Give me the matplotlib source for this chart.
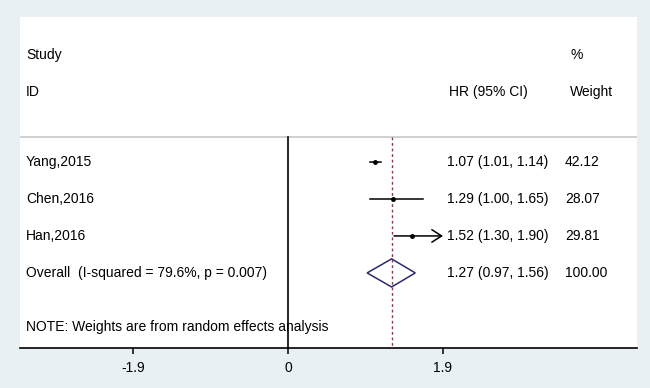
import matplotlib
matplotlib.use("Agg")
from matplotlib import pyplot as plt
from matplotlib.patches import Polygon

# study data
studies = ["Yang,2015", "Chen,2016", "Han,2016"]
hr = [1.07, 1.29, 1.52]
ci_low = [1.01, 1.00, 1.30]
ci_high = [1.14, 1.65, 1.90]
weights = ["42.12", "28.07", "29.81"]

overall_label = "Overall  (I-squared = 79.6%, p = 0.007)"
overall_hr = 1.27
overall_low = 0.97
overall_high = 1.56
overall_weight = "100.00"

x_ticks = [-1.9, 0, 1.9]
x_clip = 1.9
note = "NOTE: Weights are from random effects analysis"

BG = "#e8f0f3"
FONT = "Liberation Sans"
FS = 10

fig = plt.figure(figsize=(6.5, 3.88), dpi=100, facecolor=BG)
ax = fig.add_axes([20 / 650, 40 / 388, 617 / 650, 331 / 388])
ax.set_facecolor("white")

px = 310 / 3.8  # pixels per unit
ax.set_xlim((20 - 288) / px, (637 - 288) / px)
ax.set_ylim(5.03, -3.92)

col_study = (26 - 288) / px
col_hr = (447 - 288) / px
col_w = (565 - 288) / px
top_line = -0.68

# header
ax.text(col_study, -2.9, "Study", fontsize=FS, family=FONT, va="center")
ax.text(col_study, -1.9, "ID", fontsize=FS, family=FONT, va="center")
ax.text(col_hr + 0.03, -1.9, "HR (95% CI)", fontsize=FS, family=FONT, va="center")
ax.text(col_w + 0.07, -2.9, "%", fontsize=FS, family=FONT, va="center")
ax.text(col_w + 0.06, -1.9, "Weight", fontsize=FS, family=FONT, va="center")
ax.axhline(top_line, color="#c8c8c8", lw=1.2)

# reference lines
ax.plot([0, 0], [top_line, 5.03], color="black", lw=1.2)
ax.plot([overall_hr, overall_hr], [top_line, 5.03], color="#8b3a4a", lw=1,
        linestyle=(0, (2, 2)))

# studies
for i, name in enumerate(studies):
    ax.text(col_study, i, name, fontsize=FS, family=FONT, va="center")
    if ci_high[i] >= x_clip:
        ax.annotate("", xy=(x_clip, i), xytext=(ci_low[i], i),
                    arrowprops=dict(arrowstyle="->,head_length=0.7,head_width=0.45",
                                    color="black", lw=1.1, shrinkA=0, shrinkB=0))
    else:
        ax.plot([ci_low[i], ci_high[i]], [i, i], color="black", lw=1.1)
    ax.plot(hr[i], i, marker="o", ms=2.5, color="black")
    ax.text(col_hr, i, "%.2f (%.2f, %.2f)" % (hr[i], ci_low[i], ci_high[i]),
            fontsize=FS, family=FONT, va="center")
    ax.text(col_w, i, weights[i], fontsize=FS, family=FONT, va="center")

# overall diamond
yo = len(studies)
h = 0.38
diamond = Polygon([(overall_low, yo), (overall_hr, yo - h),
                   (overall_high, yo), (overall_hr, yo + h)],
                  closed=True, fill=False, edgecolor="#2a2a6e", lw=1.1)
ax.add_patch(diamond)
ax.text(col_study, yo, overall_label, fontsize=FS, family=FONT, va="center")
ax.text(col_hr, yo, "%.2f (%.2f, %.2f)" % (overall_hr, overall_low, overall_high),
        fontsize=FS, family=FONT, va="center")
ax.text(col_w, yo, overall_weight, fontsize=FS, family=FONT, va="center")

ax.text(col_study, 4.45, note, fontsize=FS, family=FONT, va="center")

# axes styling
for side in ["top", "left", "right"]:
    ax.spines[side].set_visible(False)
ax.spines["bottom"].set_linewidth(1.2)
ax.set_yticks([])
ax.set_xticks(x_ticks)
ax.set_xticklabels(["-1.9", "0", "1.9"], fontsize=FS, family=FONT)
ax.tick_params(axis="x", direction="out", length=4, width=1.1, pad=5)

fig.savefig("out.png", dpi=100, facecolor=BG)
